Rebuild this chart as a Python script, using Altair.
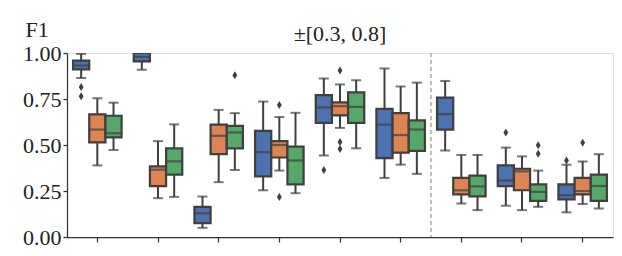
import altair as alt
import pandas as pd

groups = ["g1", "g2", "g3", "g4", "g5", "g6", "g7", "g8", "g9"]
hues = ["A", "B", "C"]
colors = ["#4C72B0", "#DD8452", "#55A868"]

# per group, per hue: whisker low, q1, median, q3, whisker high
whisker_low = [0.864, 0.389, 0.473, 0.909, 0.211, 0.218, 0.050, 0.298, 0.364,
               0.254, 0.361, 0.238, 0.443, 0.593, 0.482, 0.321, 0.393, 0.343,
               0.470, 0.182, 0.146, 0.170, 0.146, 0.164, 0.134, 0.179, 0.155]
q1 = [0.911, 0.514, 0.541, 0.954, 0.277, 0.339, 0.075, 0.450, 0.482,
      0.330, 0.432, 0.286, 0.620, 0.661, 0.620, 0.429, 0.459, 0.468,
      0.584, 0.232, 0.221, 0.277, 0.254, 0.196, 0.205, 0.232, 0.196]
median = [0.932, 0.584, 0.564, 0.979, 0.366, 0.411, 0.129, 0.550, 0.568,
          0.461, 0.500, 0.416, 0.705, 0.711, 0.707, 0.611, 0.554, 0.584,
          0.668, 0.254, 0.275, 0.307, 0.357, 0.245, 0.227, 0.250, 0.277]
q3 = [0.959, 0.666, 0.659, 1.000, 0.384, 0.482, 0.164, 0.611, 0.604,
      0.577, 0.521, 0.491, 0.771, 0.732, 0.786, 0.696, 0.673, 0.634,
      0.757, 0.321, 0.334, 0.389, 0.371, 0.286, 0.286, 0.321, 0.339]
whisker_high = [0.995, 0.754, 0.730, 1.000, 0.521, 0.612, 0.220, 0.691, 0.673,
                0.736, 0.652, 0.675, 0.862, 0.829, 0.852, 0.916, 0.818, 0.839,
                0.848, 0.446, 0.446, 0.486, 0.438, 0.361, 0.393, 0.411, 0.450]

outlier_group = ["g1", "g1", "g3", "g4", "g4", "g5", "g5", "g5", "g5", "g8", "g8", "g8", "g9", "g9"]
outlier_hue = ["A", "A", "C", "B", "B", "A", "B", "B", "B", "A", "C", "C", "A", "B"]
outlier_value = [0.815, 0.765, 0.879, 0.718, 0.218, 0.364, 0.905, 0.516, 0.478,
                 0.568, 0.498, 0.452, 0.416, 0.5125]

rows = []
i = 0
for g in groups:
    for h in hues:
        rows.append({"group": g, "hue": h, "lo": whisker_low[i], "q1": q1[i],
                     "med": median[i], "q3": q3[i], "hi": whisker_high[i]})
        i += 1
df = pd.DataFrame(rows)
out = pd.DataFrame({"group": outlier_group, "hue": outlier_hue, "v": outlier_value})
sep = pd.DataFrame({"group": ["g7"]})

LINE = "#3f3f3f"
FONT = "Liberation Serif"
W, H = 546, 184

xscale = alt.Scale(domain=groups, paddingInner=0, paddingOuter=0)
xenc = alt.X("group:N", sort=groups, scale=xscale,
             axis=alt.Axis(title=None, labels=False, ticks=True, tickSize=5,
                           domain=True, grid=False, tickColor="#333333",
                           domainColor="#333333", tickWidth=1.25, domainWidth=1.25))
xoff = alt.XOffset("hue:N", scale=alt.Scale(domain=hues, paddingInner=0, paddingOuter=0.375))
yscale = alt.Scale(domain=[0, 1], nice=False, zero=False)
yaxis = alt.Axis(title="F1", titleAngle=0, titleAlign="left", titleBaseline="alphabetic",
                 titleX=-42, titleY=-17, titleFont=FONT, titleFontSize=22,
                 titleFontWeight="normal", titleColor="#222222",
                 values=[0, 0.25, 0.5, 0.75, 1.0], format=".2f",
                 labelFont=FONT, labelFontSize=22, labelColor="#222222",
                 labelPadding=2, tickSize=4, tickColor="#333333", tickWidth=1.25,
                 domainColor="#333333", domainWidth=1.25, grid=False)
color = alt.Color("hue:N", scale=alt.Scale(domain=hues, range=colors), legend=None)

base = alt.Chart(df)

whisk = base.mark_rule(color=LINE, strokeWidth=2, clip=True).encode(
    x=xenc, xOffset=xoff, y=alt.Y("lo:Q", scale=yscale, axis=yaxis), y2="hi:Q")
box = base.mark_bar(stroke=LINE, strokeWidth=2.2, clip=True).encode(
    x=xenc, xOffset=xoff, y=alt.Y("q1:Q", scale=yscale, axis=yaxis), y2="q3:Q", color=color)
med = base.mark_tick(color=LINE, thickness=2.2, size=16, clip=True, orient="horizontal").encode(
    x=xenc, xOffset=xoff, y=alt.Y("med:Q", scale=yscale, axis=yaxis))
caplo = base.mark_tick(color=LINE, thickness=2, size=10, clip=True, orient="horizontal").encode(
    x=xenc, xOffset=xoff, y=alt.Y("lo:Q", scale=yscale, axis=yaxis))
caphi = base.mark_tick(color=LINE, thickness=2, size=10, clip=True, orient="horizontal").encode(
    x=xenc, xOffset=xoff, y=alt.Y("hi:Q", scale=yscale, axis=yaxis))
pts = alt.Chart(out).mark_point(shape="M0,-1L0.6,0L0,1L-0.6,0Z", filled=True, color=LINE,
                                size=64, opacity=1).encode(
    x=xenc, xOffset=xoff, y=alt.Y("v:Q", scale=yscale, axis=yaxis))
divider = alt.Chart(sep).mark_rule(color="#999999", strokeWidth=1.25, strokeDash=[4, 3]).encode(
    x=alt.X("group:N", sort=groups, bandPosition=0, scale=xscale),
    y=alt.value(0), y2=alt.value(H))

chart = alt.layer(divider, whisk, box, med, caplo, caphi, pts).properties(
    width=W, height=H,
    title=alt.TitleParams("±[0.3, 0.8]", font=FONT, fontSize=22, fontWeight="normal",
                          color="#222222", anchor="middle", offset=0, dy=45,
                          baseline="alphabetic"),
    autosize=alt.AutoSizeParams(type="none"),
    padding={"left": 59, "top": 45, "right": 1, "bottom": 11},
).configure_view(stroke="#333333", strokeWidth=1.25).configure(background="white")

chart.save("out.html", embed_options={"renderer": "svg", "actions": False})
